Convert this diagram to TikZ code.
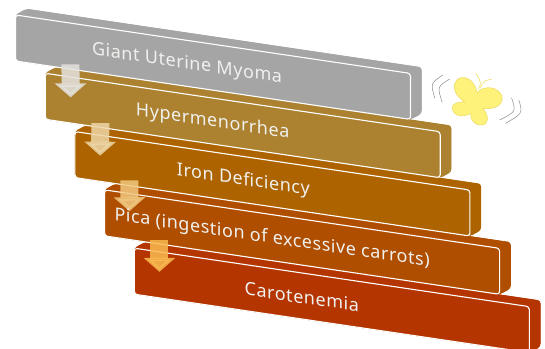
\documentclass[tikz,border=0pt]{standalone}
\usepackage{fontspec}
\setmainfont[LetterSpace=3]{Noto Sans}
\usetikzlibrary{arrows.meta, calc}
\definecolor{cBarA}{RGB}{165, 165, 165}
\definecolor{cBarB}{RGB}{172, 130, 48}
\definecolor{cBarC}{RGB}{173, 100, 0}
\definecolor{cBarD}{RGB}{176, 78, 0}
\definecolor{cBarE}{RGB}{180, 53, 0}
\definecolor{cFlowA}{RGB}{228, 226, 222}
\definecolor{cFlowB}{RGB}{238, 214, 168}
\definecolor{cFlowC}{RGB}{241, 200, 128}
\definecolor{cFlowD}{RGB}{250, 186, 80}
\definecolor{cWing}{RGB}{255, 242, 122}
\definecolor{bWing}{RGB}{238, 224, 110}
\definecolor{tLight}{RGB}{240, 240, 238}

\begin{document}
\begin{tikzpicture}[
    x=1pt, y=-1pt,
    barface/.style={
        yslant=-0.148,
        transform shape,
        minimum width=395pt,
        minimum height=46pt,
        inner sep=0pt,
        rounded corners=3pt
    },
    barlabel/.style={
        yslant=-0.148,
        transform shape,
        font=\fontsize{18}{20}\selectfont,
        text=tLight
    },
    flow/.style={
        line width=18pt,
        opacity=0.85,
        -{Triangle[width=31pt,length=14pt]}
    },
    wing/.style={fill=cWing, draw=bWing, line width=0.7pt},
    feeler/.style={draw=bWing, line width=0.7pt},
    flutter/.style={draw=black!45, line width=0.5pt}
]
\useasboundingbox (0,0) rectangle (545,348);

% Bars, lowest first
\foreach \name/\cx/\cy/\col in {barE/331.8/300.4/cBarE, barD/302.1/242.1/cBarD, barC/272.4/183.8/cBarC, barB/242.7/125.5/cBarB, barA/213/67.2/cBarA} {
    \node[barface, fill=\col] (\name d) at (\cx+11, \cy-6) {};
    \fill[\col, rounded corners=3pt] (\name d.north west) -- (\name d.north east) -- (\name d.south east)
        -- ($(\name d.south east)+(-11,6)$) -- ($(\name d.south west)+(-11,6)$)
        -- ($(\name d.north west)+(-11,6)$) -- cycle;
    \node[barface, fill=\col, draw=white, line width=1.1pt] (\name) at (\cx, \cy) {};
}

% Arrows
\coordinate (a1) at ($(barA.south west)+(55.5,3)$);
\coordinate (a2) at ($(barB.south west)+(55.7,3.4)$);
\coordinate (a3) at ($(barC.south west)+(55,2.4)$);
\coordinate (a4) at ($(barD.south west)+(55.4,3.8)$);
\coordinate (b1) at ($(barB.north west)+(26,24.7)$);
\coordinate (b2) at ($(barC.north west)+(25.7,24.7)$);
\coordinate (b3) at ($(barD.north west)+(25.4,22)$);
\coordinate (b4) at ($(barE.north west)+(25.7,24.3)$);
\draw[flow, cFlowA] (a1) -- (b1);
\draw[flow, cFlowB] (a2) -- (b2);
\draw[flow, cFlowC] (a3) -- (b3);
\draw[flow, cFlowD] (a4) -- (b4);

% Labels
\node[barlabel] (txtA) at ($(barA.center)+(-26,-2.8)$) {Giant Uterine Myoma};
\node[barlabel] (txtB) at ($(barB.center)+(-30,-3.4)$) {Hypermenorrhea};
\node[barlabel] (txtC) at ($(barC.center)+(-29,-3.3)$) {Iron Deficiency};
\node[barlabel] (txtD) at ($(barD.center)+(-30,-3.4)$) {Pica (ingestion of excessive carrots)};
\node[barlabel] (txtE) at ($(barE.center)+(-30,-3.6)$) {Carotenemia};

% Butterfly
\begin{scope}[shift={(425.5,65)}, x=0.3333pt, y=-0.3333pt]
    \draw[wing] (155,85) .. controls (150,55) and (130,35) .. (108,38)
        .. controls (85,42) and (80,70) .. (95,90)
        .. controls (102,100) and (110,105) .. (118,112)
        .. controls (95,108) and (78,118) .. (80,132)
        .. controls (82,150) and (110,160) .. (135,145)
        .. controls (133,165) and (150,182) .. (168,180)
        .. controls (190,178) and (192,155) .. (172,130)
        .. controls (205,135) and (232,120) .. (230,100)
        .. controls (228,75) and (195,58) .. (163,75) -- cycle;
    \draw[feeler] (158,72) .. controls (168,55) .. (152,25);
    \draw[feeler] (165,68) .. controls (175,47) .. (198,43);
    \draw[flutter] (52,30) .. controls (15,55) .. (28,100);
    \draw[flutter] (73,42) .. controls (35,65) .. (50,112);
    \draw[flutter] (258,98) .. controls (272,140) .. (222,165);
    \draw[flutter] (280,105) .. controls (292,145) .. (240,175);
\end{scope}
\end{tikzpicture}
\end{document}
